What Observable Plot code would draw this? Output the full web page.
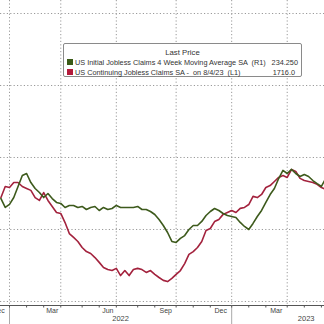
<!DOCTYPE html>
<html><head><meta charset="utf-8">
<script src="https://cdn.jsdelivr.net/npm/d3@7"></script>
<script src="https://cdn.jsdelivr.net/npm/@observablehq/plot@0.6"></script>
<style>
html,body{margin:0;padding:0;background:#fff;}
#wrap{position:relative;width:324px;height:324px;overflow:hidden;font-family:"Liberation Sans",Arial,sans-serif;}
#legend{position:absolute;left:63px;top:43px;width:239px;height:34px;border:1px solid #8a8a8a;border-radius:2px;background:#fff;box-sizing:border-box;font-size:7.3px;color:#333;}
#legend .t{position:absolute;left:0;right:0;top:3.5px;text-align:center;line-height:9px;font-size:7.8px;}
#legend .row{position:absolute;left:0;right:0;height:9px;line-height:9px;}
#legend .sw{position:absolute;left:3px;top:1.5px;width:6px;height:6px;}
#legend .nm{position:absolute;left:11px;top:0;white-space:pre;}
#legend .val{position:absolute;top:0;white-space:pre;}
</style></head>
<body><div id="wrap"></div>
<script>
// Weekly observations (Fridays) starting at this date
const weekStart = "2021-12-24";
// US Continuing Jobless Claims SA (thousands, left axis)
const continuing = [
1633,1679,1675,1696,1696,1679,1671,1663,1633,1621,
1654,1621,1596,1571,1567,1529,1483,1467,1450,1425,
1408,1400,1383,1363,1342,1333,1329,1338,1308,1329,
1308,1333,1338,1333,1321,1329,1313,1300,1288,1283,
1296,1313,1329,1358,1396,1408,1425,1450,1496,1504,
1533,1542,1563,1571,1579,1571,1588,1592,1604,1638,
1633,1646,1675,1683,1700,1717,1725,1717,1750,1742,
1713,1704,1700,1696,1688,1675,1667];
// US Initial Jobless Claims 4 Week Moving Average SA (thousands, right axis)
const initial4wk = [
221.5,215.3,217.4,222.2,229.9,237.5,238.9,232.6,228.5,225.7,
222.2,225.0,221.5,218.8,218.1,215.3,216.7,216.7,215.3,216.0,
213.9,215.3,216.0,213.2,215.3,213.9,214.6,216.7,215.3,215.3,
215.3,215.3,216.0,213.9,213.9,212.5,210.4,206.9,202.8,197.9,
191.7,191.0,193.8,195.8,200.0,202.8,202.8,205.6,209.7,212.5,
214.6,213.2,211.1,209.7,209.0,208.3,204.9,202.1,200.0,204.2,
209.0,213.2,218.8,224.3,228.5,235.4,241.0,238.9,241.7,238.9,
236.8,238.2,236.8,234.0,231.9,229.9,235.4];

const leftGrid = [1200,1500,1800,2100,2400];
const rightGrid = [150,200,250,300,350];
const gridDates = ["2022-01-07","2022-04-01","2022-07-01","2022-10-07","2023-01-06","2023-04-07"];
const monthTicks = ["2021-12-03","2022-01-07","2022-02-04","2022-03-04","2022-04-01","2022-05-06","2022-06-03","2022-07-01","2022-08-05","2022-09-02","2022-10-07","2022-11-04","2022-12-02","2023-01-06","2023-02-03","2023-03-03","2023-04-07","2023-05-05","2023-06-02"];
const monthLabelDates = ["2021-12-20","2022-03-18","2022-06-17","2022-09-20","2022-12-19","2023-03-20"];
const monthLabels = ["Dec","Mar","Jun","Sep","Dec","Mar"];
const yearDates = ["2022-07-08","2023-05-08"];
const yearLabels = ["2022","2023"];
const yearSeps = ["2022-01-07","2023-01-06"];

const seriesNames = ["US Initial Jobless Claims 4 Week Moving Average SA  (R1)","US Continuing Jobless Claims SA -  on 8/4/23  (L1)"];
const seriesColors = ["#3d5a1c","#a3223d"];
const swatchColors = ["#3a5a16","#b31a3b"];
const lastValues = ["234.250","1716.0"];

const parse = d3.utcParse("%Y-%m-%d");
const start = parse(weekStart);
const dates = continuing.map((_, i) => d3.utcDay.offset(start, 7 * i));
// map right-axis values onto the left axis (gridlines shared)
const r2l = d3.scaleLinear().domain([rightGrid[0], rightGrid[4]]).range([leftGrid[0], leftGrid[4]]);
const contData = dates.map((d, i) => ({date: d, v: continuing[i]}));
const initData = dates.map((d, i) => ({date: d, v: r2l(initial4wk[i])}));

const dash = "1.2,2.2";
const chart = Plot.plot({
  width: 324, height: 324,
  marginTop: 0, marginRight: 0, marginLeft: 0, marginBottom: 19,
  style: {background: "transparent", fontFamily: "Liberation Sans, Arial, sans-serif", overflow: "hidden"},
  x: {type: "utc", domain: [new Date(Date.UTC(2021,11,23,6)), new Date(Date.UTC(2023,5,7,2))], axis: null},
  y: {domain: [1183.3, 2454.2], axis: null},
  marks: [
    Plot.gridY(leftGrid, {stroke: "#9a9a9a", strokeOpacity: 1, strokeDasharray: dash}),
    Plot.gridX(gridDates.map(parse), {stroke: "#9a9a9a", strokeOpacity: 1, strokeDasharray: dash}),
    Plot.line(contData, {x: "date", y: "v", stroke: seriesColors[1], strokeWidth: 1.6, clip: true}),
    Plot.line(initData, {x: "date", y: "v", stroke: seriesColors[0], strokeWidth: 1.6, clip: true}),
    Plot.ruleY([1183.3], {stroke: "#555", strokeWidth: 1}),
    Plot.axisX(yearSeps.map(parse), {tickSize: 19, stroke: "#aaa", tickFormat: () => ""}),
    Plot.axisX(monthTicks.map(parse), {tickSize: 2.5, stroke: "#555", tickFormat: () => ""}),
    Plot.text(monthLabelDates.map((d, i) => ({date: parse(d), t: monthLabels[i]})),
      {x: "date", text: "t", frameAnchor: "bottom", dy: 7, fontSize: 7, fill: "#444"}),
    Plot.text(yearDates.map((d, i) => ({date: parse(d), t: yearLabels[i]})),
      {x: "date", text: "t", frameAnchor: "bottom", dy: 15.5, fontSize: 7.5, fill: "#444"})
  ]
});
const wrap = document.getElementById("wrap");
wrap.appendChild(chart);

// legend box
const lg = document.createElement("div");
lg.id = "legend";
const title = document.createElement("div");
title.className = "t"; title.textContent = "Last Price";
lg.appendChild(title);
const rowTops = [13.5, 23.5];
const valRights = [3, 6];
seriesNames.forEach((n, i) => {
  const row = document.createElement("div");
  row.className = "row"; row.style.top = rowTops[i] + "px";
  const sw = document.createElement("div"); sw.className = "sw"; sw.style.background = swatchColors[i];
  const nm = document.createElement("div"); nm.className = "nm"; nm.textContent = n;
  const val = document.createElement("div"); val.className = "val"; val.style.right = valRights[i] + "px"; val.textContent = lastValues[i];
  row.appendChild(sw); row.appendChild(nm); row.appendChild(val);
  lg.appendChild(row);
});
wrap.appendChild(lg);
</script>
</body></html>
